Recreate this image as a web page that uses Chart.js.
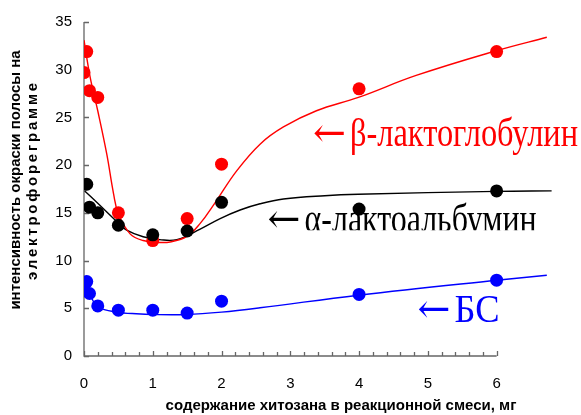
<!DOCTYPE html>
<html>
<head>
<meta charset="utf-8">
<script src="https://cdn.jsdelivr.net/npm/chart.js@4.4.1/dist/chart.umd.min.js"></script>
<style>
  html, body { margin: 0; padding: 0; background: #ffffff; }
  #wrap { width: 581px; height: 415px; }
</style>
</head>
<body>
<div id="wrap"><canvas id="c" width="581" height="415"></canvas></div>
<script>
// Chitosan content in the reaction mixture, mg
const doseX  = [0, 0.04, 0.08, 0.2, 0.5, 1, 1.5, 2, 4, 6];
const alphaX = [0.04, 0.08, 0.2, 0.5, 1, 1.5, 2, 4, 6];

// Band staining intensity on the electrophoregram
const betaY  = [29.7, 31.9, 27.8, 27.1, 15.0, 12.1, 14.4, 20.1, 28.0, 31.9];
const alphaY = [18.0, 15.6, 15.0, 13.7, 12.7, 13.1, 16.1, 15.4, 17.3];
const bsaY   = [7.4, 7.8, 6.55, 5.25, 4.8, 4.8, 4.5, 5.75, 6.45, 7.95];

// Smoothed trend curves
const betaFitX  = [0, 0.09, 0.2, 0.33, 0.43, 0.5, 0.67, 0.86, 1.1, 1.25, 1.49, 1.69, 1.9, 2.22, 2.56, 2.9, 3.38, 3.99, 4.83, 6.0, 6.73];
const betaFitY  = [33.1, 29.2, 25.7, 21.2, 17.0, 14.9, 12.8, 12.1, 11.9, 11.95, 12.5, 13.9, 16.0, 19.4, 22.2, 24.0, 25.7, 27.1, 29.4, 32.0, 33.4];
const alphaFitX = [0.01, 0.2, 0.49, 0.62, 0.86, 1.1, 1.35, 1.69, 1.98, 2.27, 2.56, 2.9, 3.5, 3.99, 6.0, 6.8];
const alphaFitY = [17.3, 16.0, 14.0, 13.2, 12.5, 12.2, 12.2, 13.3, 14.4, 15.3, 15.95, 16.45, 16.8, 16.95, 17.25, 17.3];
const bsaFitX   = [0, 0.1, 0.2, 0.5, 0.7, 1.0, 1.49, 2.0, 2.56, 3.99, 6.0, 6.73];
const bsaFitY   = [7.2, 6.2, 5.15, 4.56, 4.45, 4.35, 4.35, 4.6, 5.05, 6.37, 7.94, 8.46];

// Axis ticks
const xTickLabels = [0, 1, 2, 3, 4, 5, 6];
const yTickValues = [0, 5, 10, 15, 20, 25, 30, 35];

const xTitle = 'содержание хитозана в реакционной смеси, мг';
const yTitle = ['интенсивность окраски полосы на', 'электрофореграмме'];

const RED = '#ff0000', BLACK = '#000000', BLUE = '#0000ff';

const pts = (xs, ys) => xs.map((x, i) => ({ x, y: ys[i] }));

// Draw text, stretching with letter spacing or compressing to a target width
function fitText(ctx, text, x, y, width) {
  ctx.letterSpacing = '0px';
  const w = ctx.measureText(text).width;
  if (w < width && text.length > 1) {
    ctx.letterSpacing = ((width - w) / (text.length - 1)) + 'px';
    ctx.fillText(text, x, y);
    ctx.letterSpacing = '0px';
  } else {
    ctx.fillText(text, x, y, width);
  }
}

// Axis lines with inward tick marks; the x axis stops at 6 mg
const axesPlugin = {
  id: 'axesFrame',
  beforeDatasetsDraw(chart) {
    const { ctx, scales: { x, y } } = chart;
    const x0 = x.getPixelForValue(0);
    const xEnd = x.getPixelForValue(xTickLabels[xTickLabels.length - 1]);
    const yb = y.getPixelForValue(0);
    const yt = y.getPixelForValue(yTickValues[yTickValues.length - 1]);
    ctx.save();
    ctx.strokeStyle = '#666666';
    ctx.lineWidth = 1.3;
    ctx.beginPath();
    ctx.moveTo(x0, yt);
    ctx.lineTo(x0, yb);
    ctx.lineTo(xEnd, yb);
    for (const v of yTickValues) {
      const py = Math.round(y.getPixelForValue(v)) + 0.5;
      ctx.moveTo(x0, py);
      ctx.lineTo(x0 + 5, py);
    }
    const steps = xTickLabels[xTickLabels.length - 1] * 5;
    for (let i = 0; i <= steps; i++) {
      const px = Math.round(x.getPixelForValue(i / 5)) + 0.5;
      ctx.moveTo(px, yb);
      ctx.lineTo(px, yb - (i % 5 === 0 ? 5 : 4));
    }
    ctx.stroke();
    ctx.restore();
  }
};

// Axis titles
const titlesPlugin = {
  id: 'axisTitles',
  afterDraw(chart) {
    const { ctx } = chart;
    ctx.save();
    ctx.fillStyle = '#000000';
    ctx.font = 'bold 15px "Liberation Sans", Arial, sans-serif';
    ctx.textAlign = 'center';
    ctx.textBaseline = 'middle';
    ctx.fillText(xTitle, 341, 406, 351);
    ctx.translate(0, 180);
    ctx.rotate(-Math.PI / 2);
    ctx.fillText(yTitle[0], 0, 16, 265);
    fitText(ctx, yTitle[1], 0, 33, 197);
    ctx.restore();
  }
};

// Series name labels with arrows pointing back to their curves
const seriesLabels = [
  { name: 'β-лактоглобулин', color: RED,   x: 3.33, y: 22.05, width: 228 },
  { name: 'α-лактоальбумин', color: BLACK, x: 2.67, y: 12.96, width: 232, clipY: 13.17 },
  { name: 'БС',              color: BLUE,  x: 4.85, y: 3.55,  width: 45 }
];

const labelsPlugin = {
  id: 'seriesLabels',
  afterDatasetsDraw(chart) {
    const { ctx, scales: { x, y } } = chart;
    for (const lab of seriesLabels) {
      const px = x.getPixelForValue(lab.x);
      const py = y.getPixelForValue(lab.y);
      ctx.save();
      if (lab.clipY !== undefined) {
        ctx.beginPath();
        ctx.rect(0, 0, chart.width, y.getPixelForValue(lab.clipY));
        ctx.clip();
      }
      ctx.fillStyle = lab.color;
      ctx.textAlign = 'left';
      ctx.textBaseline = 'alphabetic';
      ctx.font = '40px "DejaVu Serif", serif';
      ctx.fillText('←', px, py, 33);
      ctx.font = '40px "Liberation Serif", "Times New Roman", serif';
      ctx.fillText(lab.name, px + 37, py, lab.width);
      ctx.restore();
    }
  }
};

const curve = (xs, ys, color) => ({
  data: pts(xs, ys),
  showLine: true,
  borderColor: color,
  borderWidth: 1.4,
  pointRadius: 0,
  pointHoverRadius: 0,
  tension: 0.4,
  order: 10
});

const marks = (xs, ys, color, order) => ({
  data: pts(xs, ys),
  showLine: false,
  backgroundColor: color,
  borderColor: color,
  borderWidth: 0,
  pointRadius: 6.5,
  pointHoverRadius: 6.5,
  order
});

new Chart(document.getElementById('c'), {
  type: 'scatter',
  data: {
    datasets: [
      marks(alphaX, alphaY, BLACK, 1),
      marks(doseX, betaY, RED, 2),
      marks(doseX, bsaY, BLUE, 3),
      curve(betaFitX, betaFitY, RED),
      curve(alphaFitX, alphaFitY, BLACK),
      curve(bsaFitX, bsaFitY, BLUE)
    ]
  },
  options: {
    responsive: false,
    animation: false,
    events: [],
    layout: { padding: { left: 0, top: 22, right: 28, bottom: 0 } },
    plugins: { legend: { display: false }, tooltip: { enabled: false } },
    scales: {
      x: {
        type: 'linear',
        min: 0,
        max: 6.82,
        grid: { display: false, drawTicks: false },
        border: { display: false },
        afterBuildTicks: s => { s.ticks = xTickLabels.map(v => ({ value: v })); },
        afterFit: s => { s.height = 59; },
        ticks: {
          padding: 19,
          color: '#000000',
          font: { family: '"Liberation Sans", Arial, sans-serif', size: 15 },
          maxRotation: 0
        }
      },
      y: {
        type: 'linear',
        min: 0,
        max: 35,
        grid: { display: false, drawTicks: false },
        border: { display: false },
        afterBuildTicks: s => { s.ticks = yTickValues.map(v => ({ value: v })); },
        afterFit: s => { s.width = 84; },
        ticks: {
          padding: 12,
          color: '#000000',
          font: { family: '"Liberation Sans", Arial, sans-serif', size: 15 }
        }
      }
    }
  },
  plugins: [axesPlugin, labelsPlugin, titlesPlugin]
});
</script>
</body>
</html>
